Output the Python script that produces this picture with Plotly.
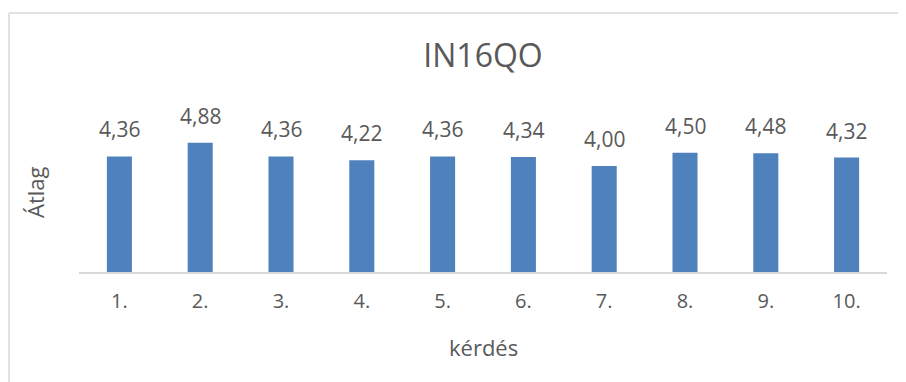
import plotly.graph_objects as go

categories = ["1.", "2.", "3.", "4.", "5.", "6.", "7.", "8.", "9.", "10."]
values = [4.36, 4.88, 4.36, 4.22, 4.36, 4.34, 4.00, 4.50, 4.48, 4.32]
title_text = "IN16QO"
x_title = "kérdés"
y_title = "Átlag"

FONT = "Open Sans"
GREY = "#595959"

OFF = 8  # page body margin offset
W, H = 906, 382
L = 79 - OFF
T = 113 - OFF
B = H - (272 - OFF)
R = W - (887 - OFF)
pw, ph = W - L - R, H - T - B

def px_x(x):
    return (x - OFF - L) / pw

def px_y(y):
    return (H - B - (y - OFF)) / ph

fig = go.Figure(go.Bar(
    x=categories, y=values,
    marker=dict(color="#4F81BD", line=dict(width=0)),
    cliponaxis=False, hoverinfo="skip",
))

# category index positions for value labels (category axis uses indices)
label_annotations = [
    dict(x=i, y=v, xref="x", yref="y", text=f"{v:.2f}".replace(".", ","),
         xanchor="center", yanchor="bottom", yshift=11, showarrow=False,
         font=dict(family=FONT, size=21, color=GREY))
    for i, v in enumerate(values)
]

fig.update_layout(
    width=W, height=H,
    margin=dict(l=L, r=R, t=T, b=B, pad=0),
    paper_bgcolor="white", plot_bgcolor="white",
    bargap=0.69,
    showlegend=False,
    title=dict(text=title_text, x=0.5, xanchor="center", xref="paper",
               y=1 - (56 - OFF) / H, yanchor="middle", yref="container",
               font=dict(family=FONT, size=32, color=GREY)),
    xaxis=dict(type="category", showgrid=False, zeroline=False, showline=True,
               linecolor="#D9D9D9", linewidth=1.5,
               ticks="", ticklabelstandoff=10,
               tickfont=dict(family=FONT, size=20, color=GREY)),
    yaxis=dict(range=[0, 6], showgrid=False, zeroline=False,
               showline=False, showticklabels=False, ticks=""),
    annotations=label_annotations + [
        dict(text=x_title, xref="paper", yref="paper", x=0.5, y=px_y(347),
             xanchor="center", yanchor="middle", showarrow=False,
             font=dict(family=FONT, size=22, color=GREY)),
        dict(text=y_title, xref="paper", yref="paper", x=px_x(35), y=px_y(192),
             xanchor="center", yanchor="middle", textangle=-90, showarrow=False,
             font=dict(family=FONT, size=22, color=GREY)),
    ],
    shapes=[
        dict(type="line", xref="paper", yref="paper",
             x0=px_x(9), x1=px_x(W + 20), y0=px_y(13), y1=px_y(13),
             line=dict(color="#D9D9D9", width=1.5)),
        dict(type="line", xref="paper", yref="paper",
             x0=px_x(9), x1=px_x(9), y0=px_y(13), y1=px_y(H + 20),
             line=dict(color="#D9D9D9", width=1.5)),
    ],
)

fig.write_html("out.html")
